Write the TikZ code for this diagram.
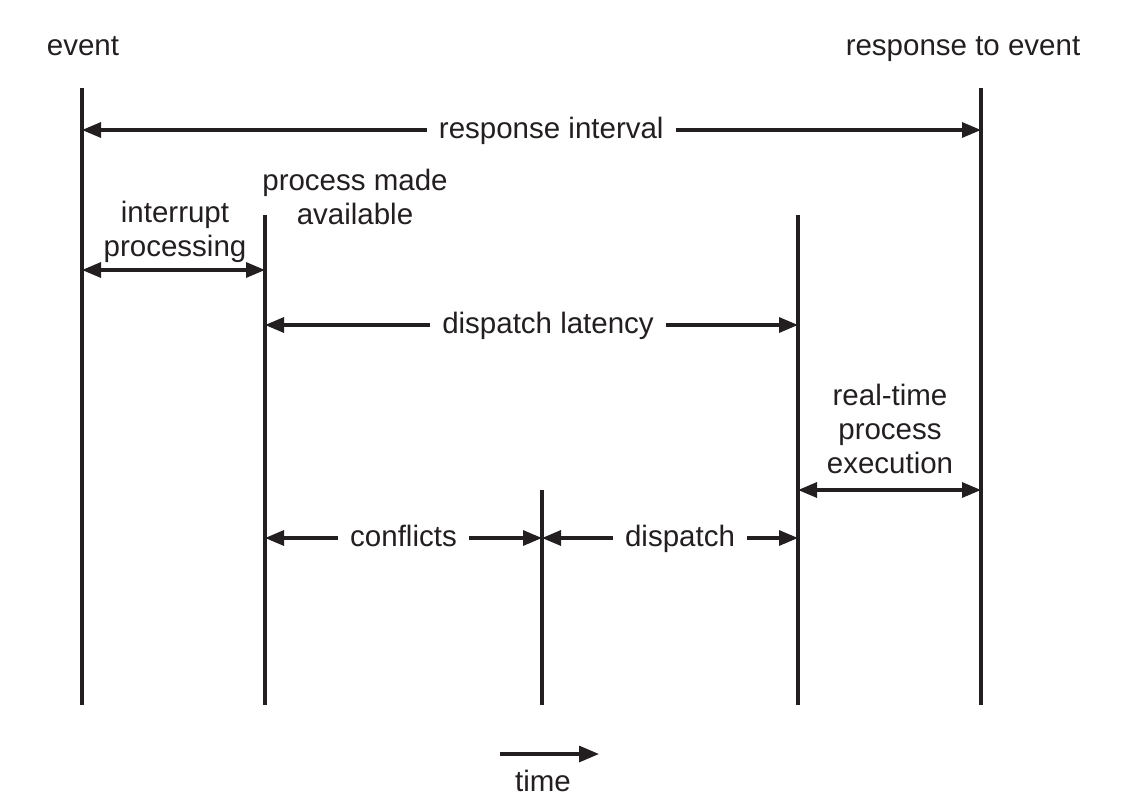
\documentclass[tikz,border=0pt]{standalone}
\usepackage{fontspec}
\setmainfont{Liberation Sans}
\usetikzlibrary{arrows.meta}
\definecolor{ink}{HTML}{231F20}
\tikzset{
  mark line/.style={draw=ink, line width=3.2pt},
  span/.style={draw=ink, line width=3.2pt, {Triangle[length=19pt,width=15pt]}-{Triangle[length=19pt,width=15pt]}},
  gaplabel/.style={fill=white, inner xsep=12pt, inner ysep=2pt, text height=21pt, text depth=6pt,
    yshift=-1pt, text=ink, font=\fontsize{29.5}{34}\selectfont},
  lbl/.style={text=ink, font=\fontsize{29.5}{34}\selectfont, align=center, inner sep=0pt}
}
\begin{document}
\begin{tikzpicture}[x=1pt, y=-1pt]
\useasboundingbox (0,0) rectangle (1139,808);

% time marks
\coordinate (Et) at (82,88);   \coordinate (Eb) at (82,705);
\coordinate (Pt) at (265,215); \coordinate (Pb) at (265,705);
\coordinate (Ct) at (542,490); \coordinate (Cb) at (542,705);
\coordinate (Dt) at (798,215); \coordinate (Db) at (798,705);
\coordinate (Rt) at (981,88);  \coordinate (Rb) at (981,705);
\foreach \a/\b in {Et/Eb, Pt/Pb, Ct/Cb, Dt/Db, Rt/Rb}
  \draw[mark line] (\a) -- (\b);

% interval end points
\coordinate (ri1) at (82,130);  \coordinate (ri2) at (981,130);
\coordinate (ip1) at (82,270);  \coordinate (ip2) at (265,270);
\coordinate (dl1) at (265,325); \coordinate (dl2) at (798,325);
\coordinate (rt1) at (798,490); \coordinate (rt2) at (981,490);
\coordinate (cf1) at (265,538); \coordinate (cf2) at (542,538);
\coordinate (dp1) at (542,538); \coordinate (dp2) at (798,538);

% headings
\node[lbl, anchor=base] (event) at (83,56) {event};
\node[lbl, anchor=base] (resp) at (963,56) {response to event};
\node[lbl] (avail) at (355,197) {process made\\available};
\node[lbl] (intr) at (175,232) {interrupt\\processing};
\node[lbl] (rtpe) at (890,429) {real-time\\process\\execution};

% intervals
\draw[span] (ri1) -- node[gaplabel, pos=0.522] (rilbl) {response interval} (ri2);
\draw[span] (ip1) -- (ip2);
\draw[span] (dl1) -- node[gaplabel, pos=0.531] (dllbl) {dispatch latency} (dl2);
\draw[span] (rt1) -- (rt2);
\draw[span] (cf1) -- node[gaplabel, pos=0.5] (cflbl) {conflicts} (cf2);
\draw[span] (dp1) -- node[gaplabel, pos=0.539] (dplbl) {dispatch} (dp2);

% time direction
\coordinate (t1) at (500,754); \coordinate (t2) at (599,754);
\draw[draw=ink, line width=3.2pt, -{Triangle[length=20pt,width=16pt]}] (t1) -- (t2);
\node[lbl] (time) at (543,781) {time};
\end{tikzpicture}
\end{document}
